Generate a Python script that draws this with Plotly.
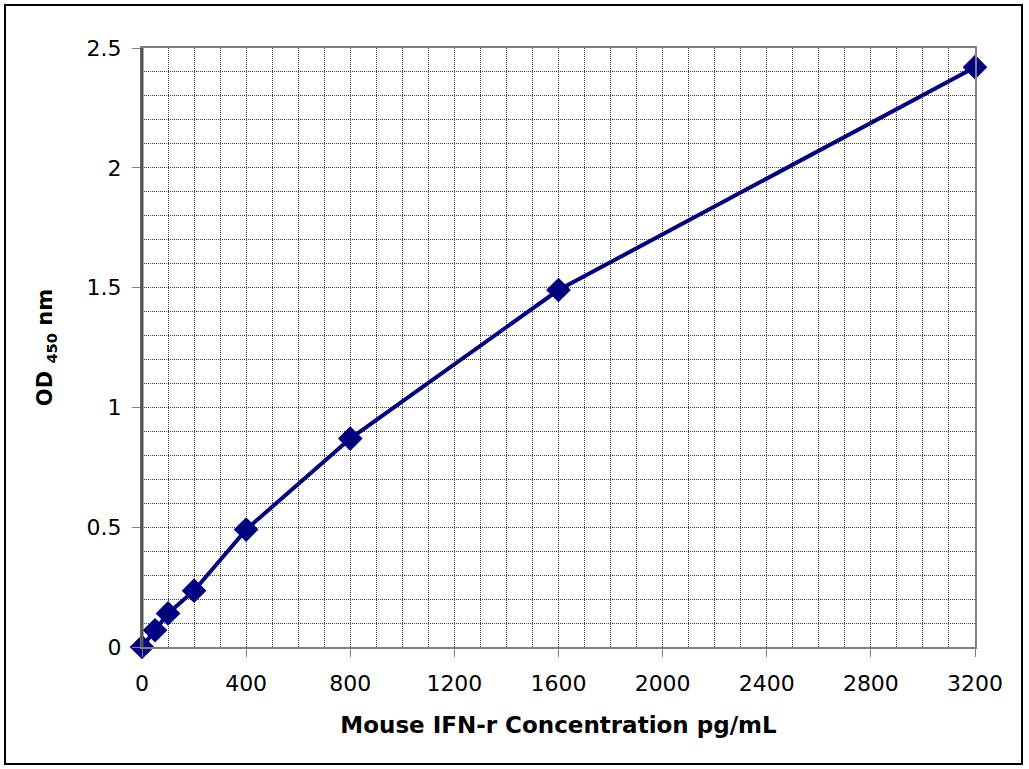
import plotly.graph_objects as go

concentration = [0, 50, 100, 200, 400, 800, 1600, 3200]
od450 = [0.0, 0.07, 0.14, 0.235, 0.49, 0.87, 1.49, 2.42]

x_ticks = [0, 400, 800, 1200, 1600, 2000, 2400, 2800, 3200]
y_ticks = [0, 0.5, 1, 1.5, 2, 2.5]
y_tick_labels = ["0", "0.5", "1", "1.5", "2", "2.5"]

W, H = 1029, 769
L, R, T, B = 142, 975, 48, 647

fig = go.Figure()
fig.add_trace(go.Scatter(
    x=concentration, y=od450, mode="lines+markers",
    line=dict(color="#000080", width=4),
    marker=dict(symbol="diamond", size=19, color="#000080"),
    cliponaxis=False, showlegend=False,
))

GRID_COLOR = "#444444"
GRID_DASH = "1px,1px"
grid = dict(showgrid=True, gridcolor=GRID_COLOR, griddash=GRID_DASH, gridwidth=1)
tickfont = dict(family="DejaVu Sans", size=22, color="black")

fig.update_layout(
    width=W, height=H,
    margin=dict(l=L, r=W - R, t=T, b=H - B, autoexpand=False),
    paper_bgcolor="white", plot_bgcolor="white",
    font=dict(family="DejaVu Sans", color="black", size=22),
    xaxis=dict(
        range=[0, 3200], tickvals=x_ticks, ticktext=[str(v) for v in x_ticks],
        ticks="outside", ticklen=8, tickcolor="#808080", ticklabelstandoff=8,
        tickfont=tickfont, showline=True, linecolor="#808080", linewidth=2,
        mirror=True, zeroline=False,
        minor=dict(dtick=100, tick0=0, showgrid=True, gridcolor=GRID_COLOR, griddash=GRID_DASH, gridwidth=1),
        title=dict(text="<b>Mouse IFN-r Concentration pg/mL</b>",
                   font=dict(family="DejaVu Sans", size=23, color="black"), standoff=21),
        **grid,
    ),
    yaxis=dict(
        range=[0, 2.5], tickvals=y_ticks, ticktext=y_tick_labels,
        ticks="outside", ticklen=8, tickcolor="#808080", ticklabelstandoff=6,
        tickfont=tickfont, showline=True, linecolor="#808080", linewidth=2,
        mirror=True, zeroline=False,
        minor=dict(dtick=0.1, tick0=0, showgrid=True, gridcolor=GRID_COLOR, griddash=GRID_DASH, gridwidth=1),
        title=dict(text="<b>OD <sub>450</sub> nm</b>",
                   font=dict(family="DejaVu Sans", size=21, color="black"), standoff=28),
        **grid,
    ),
)

def px(x):
    return (x - L) / (R - L)

def py(y):
    return (B - y) / (B - T)

fig.add_shape(type="rect", xref="paper", yref="paper",
              x0=px(5), x1=px(1022), y0=py(764), y1=py(5),
              line=dict(color="black", width=2), layer="below")
fig.add_shape(type="line", xref="paper", yref="paper",
              x0=0, x1=0, y0=0, y1=1,
              line=dict(color="#555555", width=3))

fig.write_html("out.html", config={"displayModeBar": False},
               post_script="document.body.style.margin='0';document.body.style.padding='0';document.body.style.overflow='hidden';")
